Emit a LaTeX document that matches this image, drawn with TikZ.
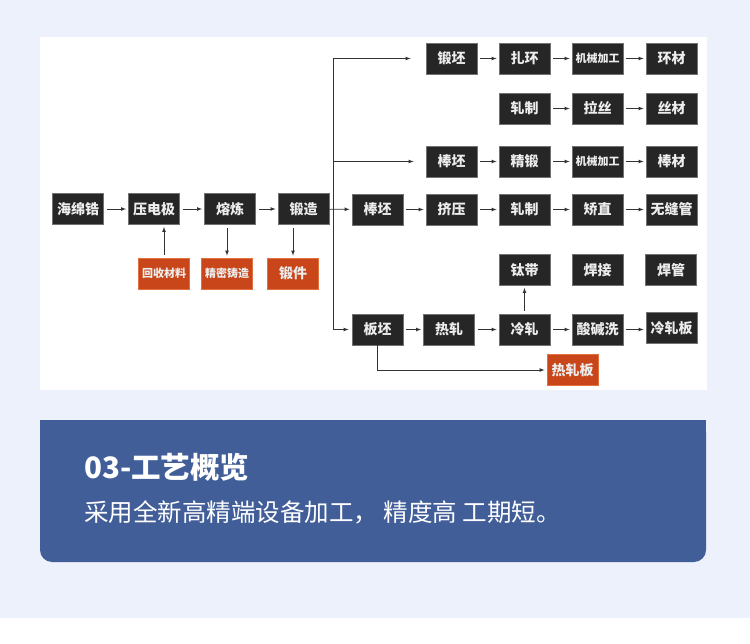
\documentclass[tikz,border=0pt]{standalone}
\usepackage{fontspec}
\newfontfamily\cjk{Noto Sans CJK SC}
\definecolor{pagebg}{HTML}{ECF1FB}
\definecolor{panel}{HTML}{415E99}
\definecolor{boxfill}{HTML}{262626}
\definecolor{boxline}{HTML}{727272}
\definecolor{boxtext}{HTML}{EDEDED}
\definecolor{hot}{HTML}{C8461A}
\definecolor{hotline}{HTML}{E07040}
\definecolor{linegray}{HTML}{333333}
\tikzset{
    proc/.style={draw=boxline, fill=boxfill, line width=0.8pt,
        minimum width=51pt, minimum height=31pt, inner sep=0pt,
        text=boxtext, font=\cjk\bfseries\fontsize{14}{14}\selectfont},
    prod/.style={proc, draw=hotline, fill=hot},
    small/.style={font=\cjk\bfseries\fontsize{11}{11}\selectfont},
    flow/.style={draw=linegray, line width=0.7pt, -latex,
        shorten <=3pt, shorten >=2pt},
}
\begin{document}
\begin{tikzpicture}[x=1pt,y=-1pt]
    \useasboundingbox (0,0) rectangle (750,644);
    %% background
    \fill[pagebg] (0,0) rectangle (750,618);
    \fill[white] (0,618) rectangle (750,644);
    \fill[white] (40,37) rectangle (707,390);
    \fill[panel, rounded corners=12pt] (40,420) rectangle (706,562);
    \fill[panel] (40,420) rectangle (706,460);
    %% main line
    \node[proc] (zr)  at (78,209)    {海绵锆};
    \node[proc] (ydj) at (154,209)   {压电极};
    \node[proc] (rl)  at (230,209)   {熔炼};
    \node[proc] (dz)  at (303.5,209) {锻造};
    \draw[flow] (zr) -- (ydj);
    \draw[flow] (ydj) -- (rl);
    \draw[flow] (rl) -- (dz);
    %% side products
    \node[prod,small] (hs) at (164,273.5) {回收材料};
    \node[prod,small] (jm) at (227,273.5) {精密铸造};
    \node[prod]       (dj) at (293,273.5) {锻件};
    \draw[flow] (hs.north) -- (hs.north |- ydj.south);
    \draw[flow] (rl.south -| jm.north) -- (jm.north);
    \draw[flow] (dz.south -| dj.north) -- (dj.north);
    %% trunk
    \coordinate (t1) at (333,58.5);
    \coordinate (t3) at (333,161.5);
    \coordinate (t6) at (333,329.5);
    \draw[linegray, line width=0.7pt] (t1) -- (t6);
    %% row 1
    \node[proc]       (db)  at (451.5,58.5) {锻坯};
    \node[proc]       (zh)  at (524.5,58.5) {扎环};
    \node[proc,small] (jx1) at (597.5,58.5) {机械加工};
    \node[proc]       (hc)  at (671.5,58.5) {环材};
    \draw[flow, shorten <=0pt, shorten >=15pt] (t1) -- (db);
    \draw[flow] (db) -- (zh);
    \draw[flow] (zh) -- (jx1);
    \draw[flow] (jx1) -- (hc);
    %% row 2
    \node[proc] (zz1) at (524.5,108.5) {轧制};
    \node[proc] (ls)  at (597.5,108.5) {拉丝};
    \node[proc] (sc)  at (671.5,108.5) {丝材};
    \draw[flow] (zz1) -- (ls);
    \draw[flow] (ls) -- (sc);
    %% row 3
    \node[proc]       (bp1) at (451.5,161.5) {棒坯};
    \node[proc]       (jd)  at (524.5,161.5) {精锻};
    \node[proc,small] (jx2) at (597.5,161.5) {机械加工};
    \node[proc]       (bc)  at (671.5,161.5) {棒材};
    \draw[flow, shorten <=0pt, shorten >=12pt] (t3) -- (bp1);
    \draw[flow] (bp1) -- (jd);
    \draw[flow] (jd) -- (jx2);
    \draw[flow] (jx2) -- (bc);
    %% row 4
    \node[proc] (bp2) at (377.5,209.5) {棒坯};
    \node[proc] (jy)  at (451.5,209.5) {挤压};
    \node[proc] (zz2) at (524.5,209.5) {轧制};
    \node[proc] (jz)  at (597.5,209.5) {矫直};
    \node[proc] (wfg) at (671.5,209.5) {无缝管};
    \draw[flow, shorten <=0pt] (dz) -- (bp2);
    \draw[flow] (bp2) -- (jy);
    \draw[flow] (jy) -- (zz2);
    \draw[flow] (zz2) -- (jz);
    \draw[flow] (jz) -- (wfg);
    %% row 5
    \node[proc] (td) at (524.5,270) {钛带};
    \node[proc] (hj) at (597.5,270) {焊接};
    \node[proc] (hg) at (671,270)   {焊管};
    %% row 6
    \node[proc] (bbp) at (377.5,329.5) {板坯};
    \node[proc] (rz)  at (449,329.5)   {热轧};
    \node[proc] (lz)  at (524.5,329.5) {冷轧};
    \node[proc] (sjx) at (597.5,329.5) {酸碱洗};
    \node[proc] (lzb) at (671.5,328)   {冷轧板};
    \node[prod] (rzb) at (572.5,370)   {热轧板};
    \draw[flow, shorten <=0pt, shorten >=3pt] (t6) -- (bbp);
    \draw[flow] (bbp) -- (rz);
    \draw[flow] (rz) -- (lz);
    \draw[flow] (lz) -- (sjx);
    \draw[flow] (sjx) -- (sjx -| lzb.west);
    \draw[flow] (lz) -- (td);
    \draw[flow, shorten <=0pt] (bbp.south) |- (rzb.west);
    %% caption
    \node[anchor=west, text=white, inner sep=0pt,
        font=\cjk\bfseries\fontsize{29.5}{29.5}\selectfont] (title) at (84,467) {03-工艺概览};
    \node[anchor=west, text=white, inner sep=0pt,
        font=\cjk\fontsize{24.5}{24.5}\selectfont] (sub) at (84,512) {采用全新高精端设备加工， 精度高 工期短。};
\end{tikzpicture}
\end{document}
